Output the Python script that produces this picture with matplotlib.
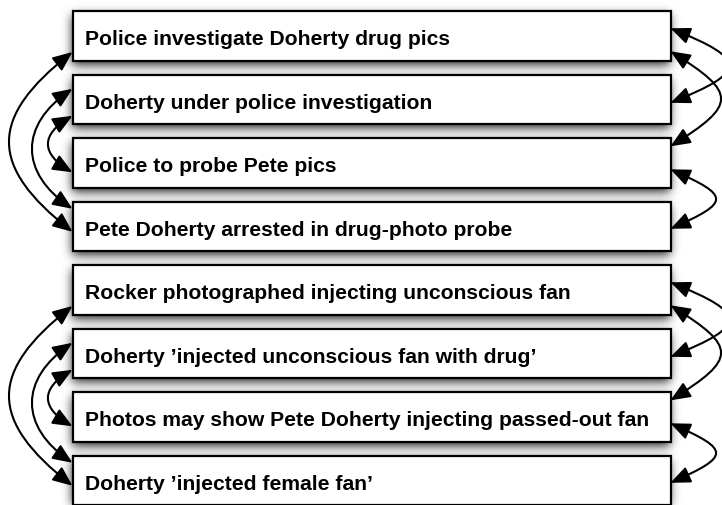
import numpy as np
import matplotlib
matplotlib.use('Agg')
import matplotlib.pyplot as plt
from matplotlib.patches import Rectangle, FancyArrowPatch
from matplotlib.path import Path

# Headlines, two stories of four each
headlines = [
    'Police investigate Doherty drug pics',
    'Doherty under police investigation',
    'Police to probe Pete pics',
    'Pete Doherty arrested in drug-photo probe',
    'Rocker photographed injecting unconscious fan',
    "Doherty \u2019injected unconscious fan with drug\u2019",
    'Photos may show Pete Doherty injecting passed-out fan',
    "Doherty \u2019injected female fan\u2019",
]
group_size = 4

# links inside one story (index pairs within the group)
left_links = [(0, 3), (1, 3), (1, 2)]
right_links = [(0, 1), (0, 2), (2, 3)]

# layout (pixels)
W, H = 722, 506
box_left, box_right = 72.5, 670.5
box_top0, box_step, box_h = 12.3, 63.5, 49.4
text_pad = 12.5
# attach offsets from box top, bulge and departure angle for each link
left_geom = [(40.7, 30.0, 63, 38), (14.0, 7.0, 40, 34), (41.0, 34.0, 24, 30)]
right_geom = [(17.0, 28.0, 58, 22), (40.0, 8.0, 50, 32), (31.0, 27.0, 45, 24)]

fig = plt.figure(figsize=(W / 100, H / 100), dpi=100)
ax = fig.add_axes([0, 0, 1, 1])
ax.set_xlim(0, W)
ax.set_ylim(H, 0)
ax.axis('off')

tops = [box_top0 + i * box_step for i in range(len(headlines))]

# soft drop shadow: blurred box mask shifted down a bit
mask = np.zeros((H, W))
for t in tops:
    y0, y1 = int(round(t + 4)), int(round(t + box_h + 4))
    mask[max(y0, 0):min(y1, H), int(box_left):int(box_right)] = 1.0
sig = 5.0
xs = np.arange(-18, 19)
k = np.exp(-xs ** 2 / (2 * sig ** 2))
k /= k.sum()
blur = np.apply_along_axis(lambda r: np.convolve(r, k, mode='same'), 1, mask)
blur = np.apply_along_axis(lambda c: np.convolve(c, k, mode='same'), 0, blur)
shadow = np.zeros((H, W, 4))
shadow[..., 3] = 0.85 * blur
ax.imshow(shadow, extent=(0, W, H, 0), zorder=1, interpolation='bilinear')

for t, txt in zip(tops, headlines):
    ax.add_patch(Rectangle((box_left, t), box_right - box_left, box_h,
                           facecolor='white', edgecolor='black', lw=1.6, zorder=2))
    ax.text(box_left + text_pad, t + 0.665 * box_h, txt, fontsize=15.2,
            fontweight='bold', family=['Liberation Sans', 'DejaVu Sans'],
            va='baseline', ha='left', zorder=3)


def link(x0, sign, ya, yb, bulge, angle):
    a = bulge / 0.75
    b = a * np.tan(np.radians(angle))
    verts = [(x0, ya), (x0 + sign * a, ya + b), (x0 + sign * a, yb - b), (x0, yb)]
    codes = [Path.MOVETO, Path.CURVE4, Path.CURVE4, Path.CURVE4]
    arr = FancyArrowPatch(path=Path(verts, codes),
                          arrowstyle='<|-|>,head_length=0.85,head_width=0.36',
                          mutation_scale=14, lw=1.5, color='black', zorder=4)
    ax.add_patch(arr)


for g in range(len(headlines) // group_size):
    base = g * group_size
    for (i, j), (oa, ob, bulge, ang) in zip(left_links, left_geom):
        link(box_left, -1, tops[base + i] + oa, tops[base + j] + ob, bulge, ang)
    for (i, j), (oa, ob, bulge, ang) in zip(right_links, right_geom):
        link(box_right, 1, tops[base + i] + oa, tops[base + j] + ob, bulge, ang)

fig.savefig('out.png', dpi=100, facecolor='white')
